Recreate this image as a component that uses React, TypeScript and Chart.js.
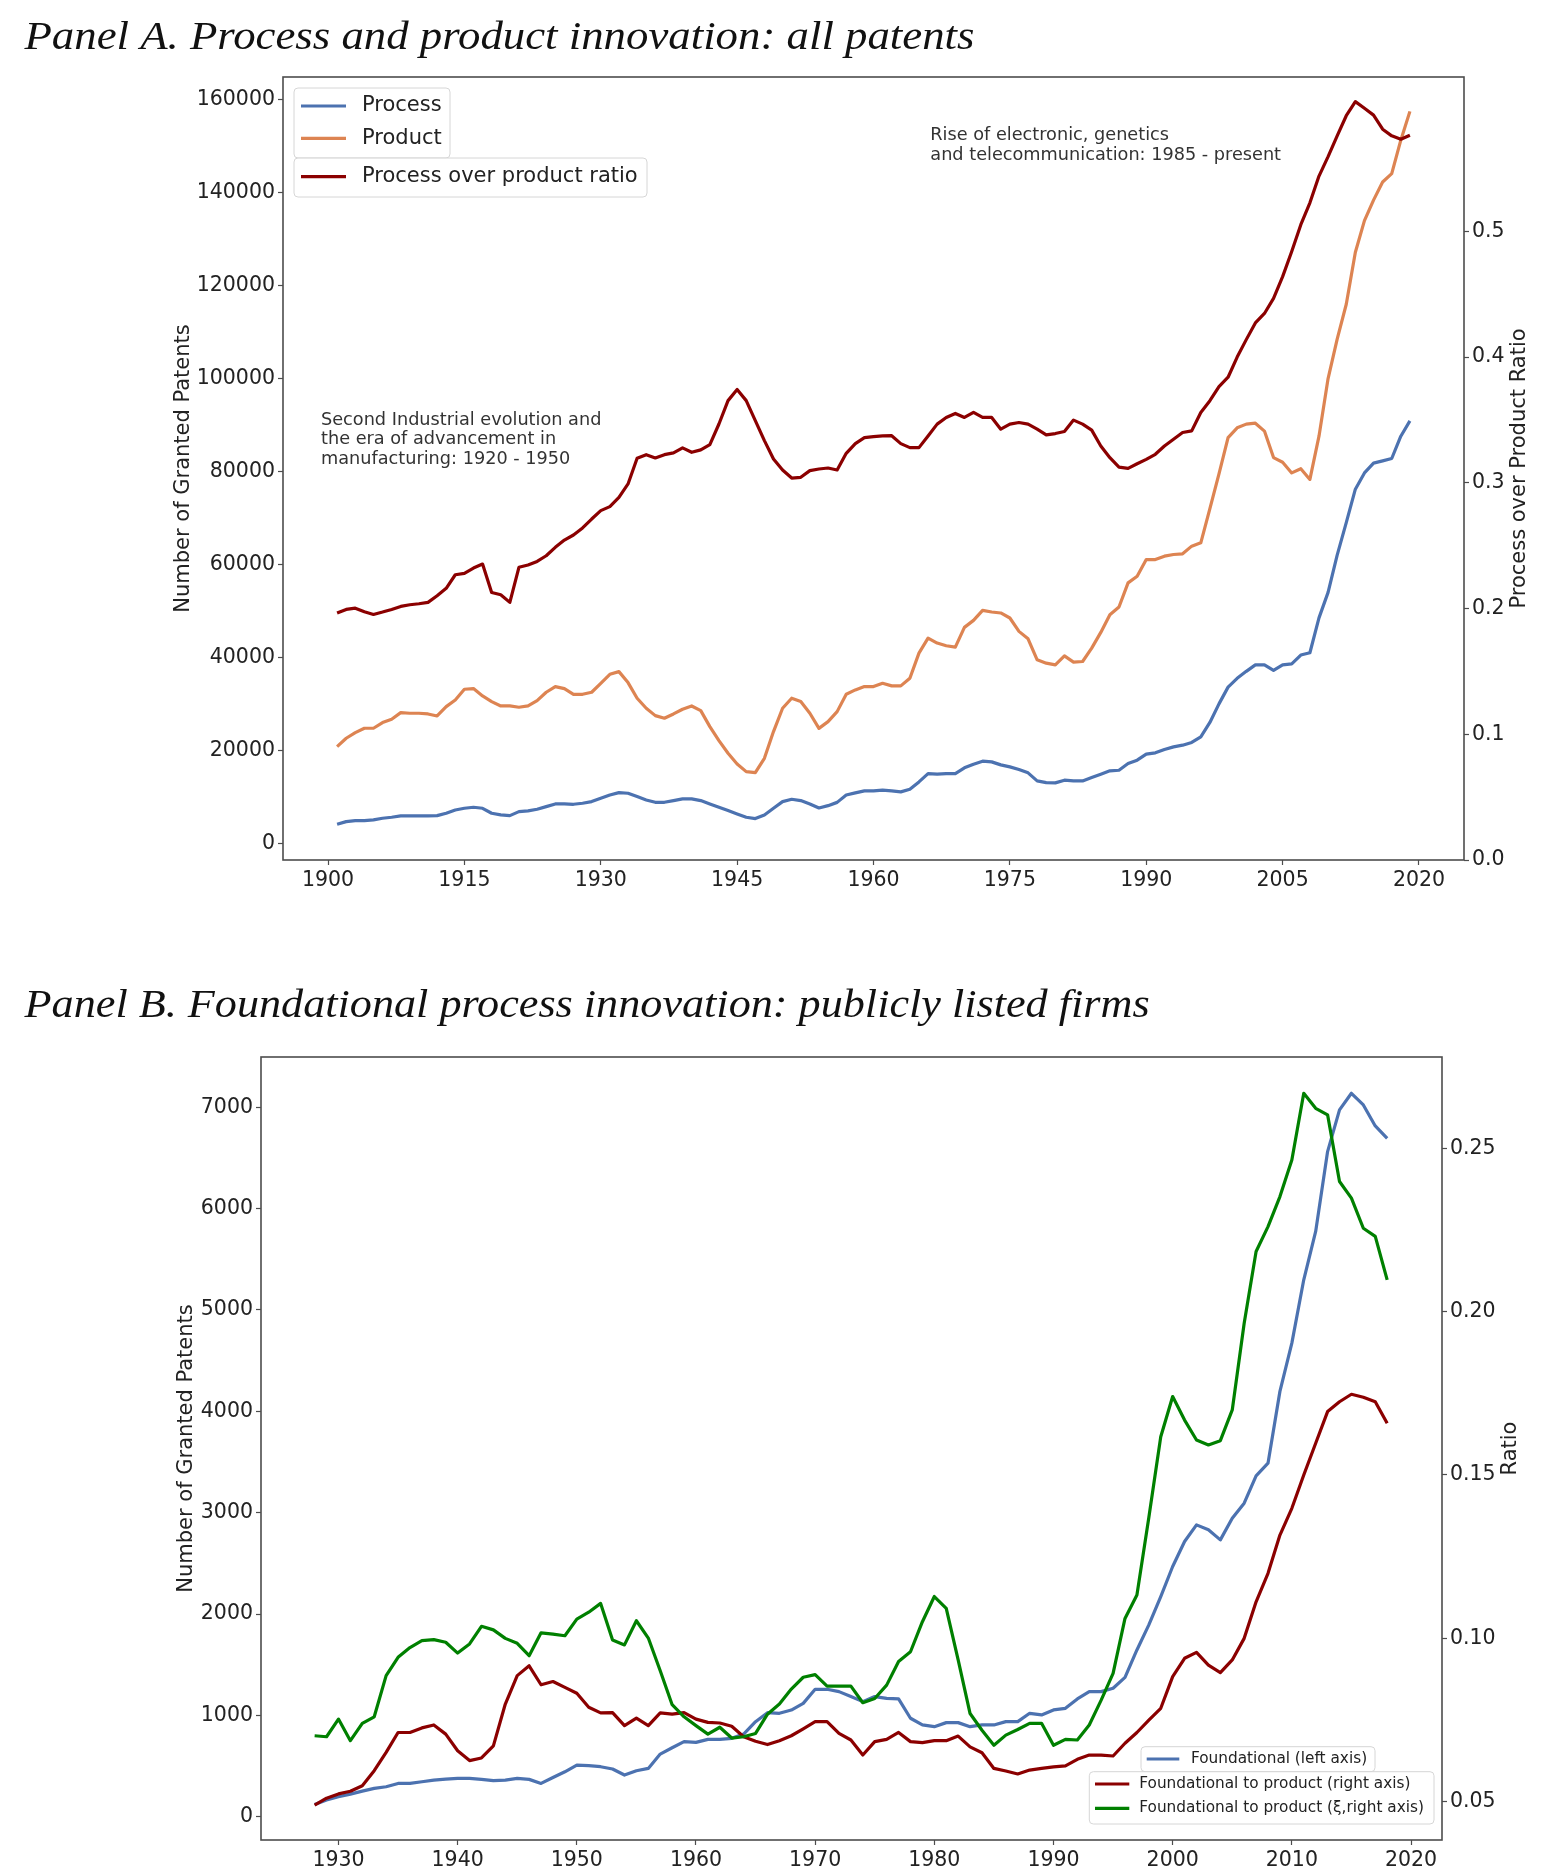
import React, { useEffect, useRef } from "react";
import { Chart, registerables } from "chart.js";

Chart.register(...registerables);

// ---------- Panel A: all granted patents, 1901-2019 ----------
const YEARS_A_START = 1901;

const PROCESS = [
  4090, 4660, 4880, 4880, 5020, 5380, 5600, 5880, 5880, 5880,
  5900, 5950, 6460, 7170, 7530, 7750, 7530, 6460, 6100, 5950,
  6815, 6960, 7320, 7890, 8460, 8460, 8390, 8610, 8970, 9680,
  10400, 10900, 10760, 10040, 9320, 8820, 8820, 9180, 9540, 9540,
  9180, 8460, 7750, 7030, 6310, 5600, 5310, 6100, 7530, 8970,
  9470, 9180, 8460, 7600, 8100, 8800, 10400, 10840, 11270, 11270,
  11420, 11270, 11060, 11630, 13210, 15000, 14860, 15000, 15000, 16230,
  17020, 17660, 17520, 16870, 16440, 15870, 15150, 13420, 13060, 12990,
  13570, 13420, 13420, 14140, 14860, 15580, 15720, 17160, 17880, 19180,
  19460, 20180, 20750, 21110, 21690, 22910, 26000, 30000, 33600, 35500,
  37000, 38400, 38400, 37200, 38400, 38600, 40500, 41000, 48500, 54000,
  62000, 69000, 76200, 79700, 81800, 82300, 82800, 87600, 90900,
];

const PRODUCT = [
  20800, 22600, 23800, 24750, 24750, 25970, 26690, 28120, 27980, 27980,
  27830, 27400, 29410, 30850, 33140, 33290, 31710, 30490, 29550, 29550,
  29270, 29550, 30700, 32500, 33720, 33290, 32060, 32060, 32500, 34430,
  36370, 36940, 34580, 31210, 29050, 27470, 26900, 27830, 28840, 29550,
  28550, 25110, 22090, 19370, 17070, 15420, 15210, 18290, 24030, 29050,
  31210, 30490, 27980, 24730, 26170, 28330, 32070, 33000, 33720, 33720,
  34440, 33870, 33870, 35520, 40920, 44160, 43080, 42500, 42210, 46460,
  47970, 50130, 49770, 49560, 48480, 45600, 44010, 39480, 38760, 38400,
  40340, 38970, 39120, 41990, 45380, 49190, 50850, 56030, 57460, 61060,
  61060, 61780, 62140, 62290, 63940, 64660, 72000, 79500, 87300, 89400,
  90200, 90400, 88700, 83000, 82000, 79700, 80600, 78300, 87600, 100000,
  108500, 116000, 127200, 134000, 138400, 142300, 144100, 151300, 157500,
];

const PROCESS_OVER_PRODUCT = [
  0.1964, 0.1993, 0.2003, 0.1974, 0.1953, 0.1972, 0.1993, 0.2017, 0.203, 0.2038,
  0.2049, 0.2102, 0.2161, 0.2269, 0.228, 0.2322, 0.2354, 0.2128, 0.211, 0.2049,
  0.2328, 0.2346, 0.2375, 0.242, 0.2487, 0.2545, 0.2585, 0.2641, 0.2712, 0.2779,
  0.2811, 0.2885, 0.2991, 0.3195, 0.3224, 0.3198, 0.3224, 0.3238, 0.3278, 0.3243,
  0.3262, 0.3304, 0.3468, 0.3654, 0.3742, 0.3654, 0.3495, 0.3336, 0.319, 0.3102,
  0.3038, 0.3044, 0.3097, 0.311, 0.3118, 0.3102, 0.3235, 0.3312, 0.336, 0.3368,
  0.3373, 0.3375, 0.3312, 0.328, 0.328, 0.3373, 0.3467, 0.352, 0.3552, 0.352,
  0.356, 0.352, 0.352, 0.3427, 0.3467, 0.348, 0.3467, 0.3427, 0.3381, 0.3392,
  0.3408, 0.3499, 0.3467, 0.3419, 0.3293, 0.32, 0.3125, 0.3115, 0.3152, 0.3187,
  0.3227, 0.3293, 0.3347, 0.34, 0.3413, 0.356, 0.3653, 0.3765, 0.384, 0.4,
  0.4139, 0.4272, 0.4347, 0.4467, 0.464, 0.484, 0.5053, 0.5227, 0.544, 0.5595,
  0.576, 0.592, 0.6032, 0.5979, 0.5925, 0.5813, 0.576, 0.5733, 0.5765,
];

const X_TICKS_A = [1900, 1915, 1930, 1945, 1960, 1975, 1990, 2005, 2020];
const Y_TICKS_A = [0, 20000, 40000, 60000, 80000, 100000, 120000, 140000, 160000];
const Y1_TICKS_A = [0, 0.1, 0.2, 0.3, 0.4, 0.5];

// ---------- Panel B: publicly listed firms, 1928-2018 ----------
const YEARS_B_START = 1928;

const FOUNDATIONAL = [
  122, 165, 198,
  224, 253, 280, 296, 329, 329, 346, 362, 372, 379,
  379, 369, 356, 362, 379, 369, 329, 388, 444, 510,
  504, 494, 471, 412, 454, 477, 619, 681, 741, 734,
  764, 764, 774, 816, 938, 1027, 1021, 1053, 1119, 1258,
  1258, 1235, 1186, 1136, 1186, 1169, 1163, 972, 906, 889,
  929, 929, 889, 906, 906, 939, 939, 1021, 1005, 1054,
  1070, 1163, 1235, 1235, 1268, 1376, 1646, 1893, 2173, 2469,
  2716, 2880, 2831, 2732, 2946, 3094, 3364, 3489, 4197, 4673,
  5298, 5775, 6563, 6974, 7138, 7023, 6816, 6694,
];

const FOUNDATIONAL_TO_PRODUCT = [
  0.049, 0.0511, 0.0524,
  0.0532, 0.0549, 0.0595, 0.0651, 0.0712, 0.0712, 0.0726, 0.0735, 0.0707, 0.0656,
  0.0626, 0.0634, 0.0671, 0.0799, 0.0886, 0.0916, 0.0858, 0.0868, 0.085, 0.0832,
  0.0789, 0.0772, 0.0773, 0.0733, 0.0756, 0.0733, 0.0772, 0.0768, 0.0773, 0.0753,
  0.0743, 0.0741, 0.0731, 0.0699, 0.0685, 0.0675, 0.0687, 0.0702, 0.0723, 0.0745,
  0.0745, 0.0709, 0.0689, 0.0643, 0.0684, 0.0691, 0.0712, 0.0684, 0.0681, 0.0687,
  0.0687, 0.0701, 0.0668, 0.065, 0.0602, 0.0594, 0.0585, 0.0597, 0.0602, 0.0607,
  0.061, 0.063, 0.0643, 0.0643, 0.064, 0.0679, 0.0712, 0.075, 0.0786, 0.0883,
  0.0939, 0.0957, 0.0918, 0.0895, 0.0934, 0.1, 0.1112, 0.1199, 0.1316, 0.1398,
  0.15, 0.1597, 0.1694, 0.1724, 0.1747, 0.1738, 0.1724, 0.1658,
];

const FOUNDATIONAL_TO_PRODUCT_XI = [
  0.0702, 0.0699, 0.0753,
  0.0687, 0.074, 0.076, 0.0886, 0.0942, 0.0972, 0.0993, 0.0996, 0.0988, 0.0955,
  0.0983, 0.1037, 0.1026, 0.1, 0.0985, 0.0947, 0.1017, 0.1013, 0.1008, 0.1059,
  0.108, 0.1107, 0.0995, 0.098, 0.1054, 0.1001, 0.0901, 0.0797, 0.076, 0.0733,
  0.0707, 0.0728, 0.0695, 0.0699, 0.0709, 0.0768, 0.0799, 0.0845, 0.0881, 0.0889,
  0.0854, 0.0854, 0.0854, 0.0803, 0.0816, 0.0857, 0.0929, 0.0959, 0.1051, 0.1128,
  0.1092, 0.0934, 0.077, 0.0719, 0.0673, 0.0704, 0.0721, 0.074, 0.074, 0.0673,
  0.0691, 0.0689, 0.0735, 0.0811, 0.0893, 0.1061, 0.1133, 0.137, 0.1617, 0.174,
  0.1668, 0.1607, 0.1592, 0.1605, 0.1699, 0.1964, 0.2184, 0.226, 0.2352, 0.2464,
  0.2668, 0.2622, 0.2602, 0.2398, 0.2347, 0.2255, 0.223, 0.2097,
];

const X_TICKS_B = [1930, 1940, 1950, 1960, 1970, 1980, 1990, 2000, 2010, 2020];
const Y_TICKS_B = [0, 1000, 2000, 3000, 4000, 5000, 6000, 7000];
const Y1_TICKS_B = [0.05, 0.1, 0.15, 0.2, 0.25];

// ---------- styling ----------
const BLUE = "#4c72b0";
const ORANGE = "#dd8452";
const DARK_RED = "#8b0000";
const GREEN = "#008000";
const INK = "#222222";
const SPINE = "#4d4d4d";
const SANS = "DejaVu Sans";
const W = 1543;

const toPoints = (start: number, values: number[]) =>
  values.map((v, i) => ({ x: start + i, y: v }));

type LegendSpec = {
  box: [number, number, number, number];
  lineX: number;
  lineLen: number;
  textX: number;
  font: number;
  rows: [number, number][];
};
type NoteSpec = { lines: string[]; x: number; y: number; step: number };
type DecorSpec = {
  title: { text: string; x: number; baseline: number; width: number };
  leftTitle: { text: string; x: number };
  rightTitle: { text: string; x: number };
  legends: LegendSpec[];
  notes: NoteSpec[];
};

function roundRect(ctx: CanvasRenderingContext2D, x: number, y: number, w: number, h: number, r: number) {
  ctx.beginPath();
  ctx.moveTo(x + r, y);
  ctx.lineTo(x + w - r, y);
  ctx.arcTo(x + w, y, x + w, y + r, r);
  ctx.lineTo(x + w, y + h - r);
  ctx.arcTo(x + w, y + h, x + w - r, y + h, r);
  ctx.lineTo(x + r, y + h);
  ctx.arcTo(x, y + h, x, y + h - r, r);
  ctx.lineTo(x, y + r);
  ctx.arcTo(x, y, x + r, y, r);
  ctx.closePath();
}

// Frame, titles, axis labels, legends and notes drawn on top of the chart
function makeDecor(spec: DecorSpec) {
  return {
    id: "panelDecor",
    afterDraw(chart: any) {
      const ctx: CanvasRenderingContext2D = chart.ctx;
      const a = chart.chartArea;
      ctx.save();

      // frame (all four spines)
      ctx.strokeStyle = SPINE;
      ctx.lineWidth = 1.6;
      ctx.strokeRect(a.left, a.top, a.right - a.left, a.bottom - a.top);

      // panel title
      ctx.fillStyle = "#111";
      ctx.font = `italic 40px "Liberation Serif", serif`;
      ctx.textAlign = "left";
      ctx.textBaseline = "alphabetic";
      const tw = ctx.measureText(spec.title.text).width;
      ctx.save();
      ctx.translate(spec.title.x, spec.title.baseline);
      ctx.scale(spec.title.width / tw, 1);
      ctx.fillText(spec.title.text, 0, 0);
      ctx.restore();

      // axis titles
      const cy = (a.top + a.bottom) / 2;
      ctx.fillStyle = INK;
      ctx.font = `21px "${SANS}"`;
      ctx.textAlign = "center";
      ctx.textBaseline = "middle";
      for (const t of [spec.leftTitle, spec.rightTitle]) {
        ctx.save();
        ctx.translate(t.x, cy);
        ctx.rotate(-Math.PI / 2);
        ctx.fillText(t.text, 0, 0);
        ctx.restore();
      }

      // notes
      ctx.fillStyle = "#333";
      ctx.font = `17.7px "${SANS}"`;
      ctx.textAlign = "left";
      for (const n of spec.notes) {
        n.lines.forEach((line, i) => ctx.fillText(line, n.x, n.y + i * n.step));
      }

      // legends
      for (const lg of spec.legends) {
        const [x, y, w, h] = lg.box;
        roundRect(ctx, x, y, w, h, 4);
        ctx.fillStyle = "rgba(255,255,255,0.8)";
        ctx.fill();
        ctx.strokeStyle = "#d6d6d6";
        ctx.lineWidth = 1;
        ctx.stroke();
        ctx.font = `${lg.font}px "${SANS}"`;
        for (const [di, ry] of lg.rows) {
          const ds = chart.data.datasets[di];
          ctx.strokeStyle = ds.borderColor;
          ctx.lineWidth = 3.2;
          ctx.beginPath();
          ctx.moveTo(lg.lineX, ry);
          ctx.lineTo(lg.lineX + lg.lineLen, ry);
          ctx.stroke();
          ctx.fillStyle = INK;
          ctx.fillText(ds.label, lg.textX, ry);
        }
      }
      ctx.restore();
    },
  };
}

function axisCommon(ticks: number[], fmt: (v: number) => string) {
  return {
    afterBuildTicks: (axis: any) => {
      axis.ticks = ticks.map((v) => ({ value: v }));
    },
    ticks: {
      font: { family: SANS, size: 20.5 },
      color: INK,
      padding: 3,
      autoSkip: false,
      maxRotation: 0,
      minRotation: 0,
      callback: (v: any) => fmt(Number(v)),
    },
    grid: {
      drawOnChartArea: false,
      drawTicks: true,
      tickLength: 5,
      tickWidth: 1.2,
      color: SPINE,
    },
    border: { display: false },
  };
}

type PanelSpec = {
  datasets: any[];
  xRange: [number, number];
  yRange: [number, number];
  y1Range: [number, number];
  xTicks: number[];
  yTicks: number[];
  y1Ticks: number[];
  y1Fmt: (v: number) => string;
  padTop: number;
  leftW: number;
  rightW: number;
  bottomH: number;
  decor: DecorSpec;
};

function buildConfig(p: PanelSpec): any {
  return {
    type: "line",
    data: { datasets: p.datasets },
    options: {
      animation: false,
      responsive: false,
      devicePixelRatio: 1,
      events: [],
      layout: { autoPadding: false, padding: { top: p.padTop, left: 0, right: 0, bottom: 0 } },
      elements: {
        point: { radius: 0 },
        line: { borderWidth: 3.2, tension: 0, borderJoinStyle: "round", borderCapStyle: "butt" },
      },
      plugins: { legend: { display: false }, tooltip: { enabled: false }, title: { display: false } },
      scales: {
        x: {
          type: "linear",
          min: p.xRange[0],
          max: p.xRange[1],
          ...axisCommon(p.xTicks, (v) => String(v)),
          afterFit: (s: any) => {
            s.height = p.bottomH;
          },
        },
        y: {
          type: "linear",
          position: "left",
          min: p.yRange[0],
          max: p.yRange[1],
          ...axisCommon(p.yTicks, (v) => String(v)),
          afterFit: (s: any) => {
            s.width = p.leftW;
          },
        },
        y1: {
          type: "linear",
          position: "right",
          min: p.y1Range[0],
          max: p.y1Range[1],
          ...axisCommon(p.y1Ticks, p.y1Fmt),
          afterFit: (s: any) => {
            s.width = p.rightW;
          },
        },
      },
    },
    plugins: [makeDecor(p.decor)],
  };
}

const line = (label: string, color: string, data: any[], axis: string, order: number) => ({
  label,
  data,
  borderColor: color,
  backgroundColor: color,
  yAxisID: axis,
  order,
  fill: false,
});

const panelA: PanelSpec = {
  datasets: [
    line("Process", BLUE, toPoints(YEARS_A_START, PROCESS), "y", 3),
    line("Product", ORANGE, toPoints(YEARS_A_START, PRODUCT), "y", 2),
    line("Process over product ratio", DARK_RED, toPoints(YEARS_A_START, PROCESS_OVER_PRODUCT), "y1", 1),
  ],
  xRange: [1895.05, 2024.95],
  yRange: [-3600, 164900],
  y1Range: [0, 0.6228],
  xTicks: X_TICKS_A,
  yTicks: Y_TICKS_A,
  y1Ticks: Y1_TICKS_A,
  y1Fmt: (v) => v.toFixed(1),
  padTop: 77,
  leftW: 283,
  rightW: W - 1464,
  bottomH: 80,
  decor: {
    title: { text: "Panel A. Process and product innovation: all patents", x: 24.5, baseline: 48.5, width: 950 },
    leftTitle: { text: "Number of Granted Patents", x: 183.5 },
    rightTitle: { text: "Process over Product Ratio", x: 1519.5 },
    legends: [
      { box: [294, 88, 156, 70], lineX: 301, lineLen: 45, textX: 362, font: 21, rows: [[0, 106], [1, 138.3]] },
      { box: [294, 158, 353, 39], lineX: 301, lineLen: 45, textX: 362, font: 21, rows: [[2, 176.7]] },
    ],
    notes: [
      {
        lines: ["Second Industrial evolution and", "the era of advancement in", "manufacturing: 1920 - 1950"],
        x: 321,
        y: 420,
        step: 19.8,
      },
      {
        lines: ["Rise of electronic, genetics", "and telecommunication: 1985 - present"],
        x: 930.3,
        y: 135.5,
        step: 19.6,
      },
    ],
  },
};

const B_TOP = 940;

const panelB: PanelSpec = {
  datasets: [
    line("Foundational (left axis)", BLUE, toPoints(YEARS_B_START, FOUNDATIONAL), "y", 3),
    line("Foundational to product (right axis)", DARK_RED, toPoints(YEARS_B_START, FOUNDATIONAL_TO_PRODUCT), "y1", 2),
    line("Foundational to product (\u03BE,right axis)", GREEN, toPoints(YEARS_B_START, FOUNDATIONAL_TO_PRODUCT_XI), "y1", 1),
  ],
  xRange: [1923.5, 2022.6],
  yRange: [-229, 7496],
  y1Range: [0.0383, 0.2779],
  xTicks: X_TICKS_B,
  yTicks: Y_TICKS_B,
  y1Ticks: Y1_TICKS_B,
  y1Fmt: (v) => v.toFixed(2),
  padTop: 1057 - B_TOP,
  leftW: 261,
  rightW: W - 1442,
  bottomH: 36,
  decor: {
    title: {
      text: "Panel B. Foundational process innovation: publicly listed firms",
      x: 24.6,
      baseline: 1017 - B_TOP,
      width: 1125,
    },
    leftTitle: { text: "Number of Granted Patents", x: 187 },
    rightTitle: { text: "Ratio", x: 1511 },
    legends: [
      {
        box: [1141, 1746.7 - B_TOP, 234, 25],
        lineX: 1146.7,
        lineLen: 32.6,
        textX: 1191,
        font: 15.3,
        rows: [[0, 1759 - B_TOP]],
      },
      {
        box: [1089.3, 1771.7 - B_TOP, 344.7, 52.3],
        lineX: 1095,
        lineLen: 34.3,
        textX: 1139.3,
        font: 15.3,
        rows: [
          [1, 1784 - B_TOP],
          [2, 1808.3 - B_TOP],
        ],
      },
    ],
    notes: [],
  },
};

function PanelCanvas({ spec, top, height }: { spec: PanelSpec; top: number; height: number }) {
  const ref = useRef<HTMLCanvasElement>(null);
  useEffect(() => {
    if (!ref.current) return;
    const chart = new Chart(ref.current, buildConfig(spec));
    return () => chart.destroy();
  }, [spec]);
  return (
    <canvas
      ref={ref}
      width={W}
      height={height}
      style={{ position: "absolute", left: 0, top, width: W, height, display: "block" }}
    />
  );
}

export default function App() {
  return (
    <div style={{ position: "absolute", left: 0, top: 0, width: W, height: 1876, background: "#fff", overflow: "hidden" }}>
      <PanelCanvas spec={panelA} top={0} height={B_TOP} />
      <PanelCanvas spec={panelB} top={B_TOP} height={1876 - B_TOP} />
    </div>
  );
}
